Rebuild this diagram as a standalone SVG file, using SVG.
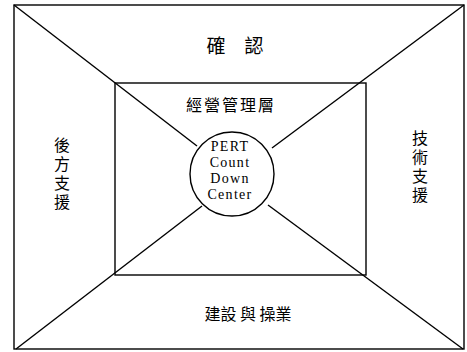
<svg xmlns="http://www.w3.org/2000/svg" width="467" height="352" viewBox="0 0 467 352">
<style>
.ln{stroke:#000;stroke-width:1.4;fill:none}
.cjk{font-family:"Noto Sans CJK TC","Noto Sans CJK JP",serif;fill:#000}
.v{font-size:16px;writing-mode:vertical-rl;letter-spacing:3px}
.en{font-family:"Liberation Serif",serif;font-size:14px;fill:#000;text-anchor:middle;letter-spacing:1.3px}
</style>
<rect width="467" height="352" fill="#fff"/>
<g id="connectors">
<line class="ln" x1="14" y1="5" x2="197" y2="146"/>
<line class="ln" x1="464" y1="5" x2="272" y2="148"/>
<line class="ln" x1="16" y1="349" x2="202" y2="206"/>
<line class="ln" x1="463" y1="349" x2="268" y2="205"/>
</g>
<g id="outer"><rect class="ln" x="14" y="5" width="450" height="344"/></g>
<g id="inner"><rect class="ln" x="115" y="83" width="251" height="192"/></g>
<g id="top"><text class="cjk" x="235" y="53" font-size="19" text-anchor="middle">確　認</text></g>
<g id="mgmt"><text class="cjk" x="231" y="111" font-size="16" text-anchor="middle" letter-spacing="2">經營管理層</text></g>
<g id="left"><text class="cjk v" x="62" y="137">後方支援</text></g>
<g id="right"><text class="cjk v" x="420" y="130">技術支援</text></g>
<g id="bottom"><text class="cjk" x="248" y="320" font-size="16" text-anchor="middle">建設 與 操業</text></g>
<g id="center">
<circle class="ln" cx="232" cy="174" r="42" fill="#fff"/>
<text class="en"><tspan x="230" y="151">PERT</tspan><tspan x="230" y="167">Count</tspan><tspan x="230" y="183">Down</tspan><tspan x="230" y="199">Center</tspan></text>
</g>
</svg>
